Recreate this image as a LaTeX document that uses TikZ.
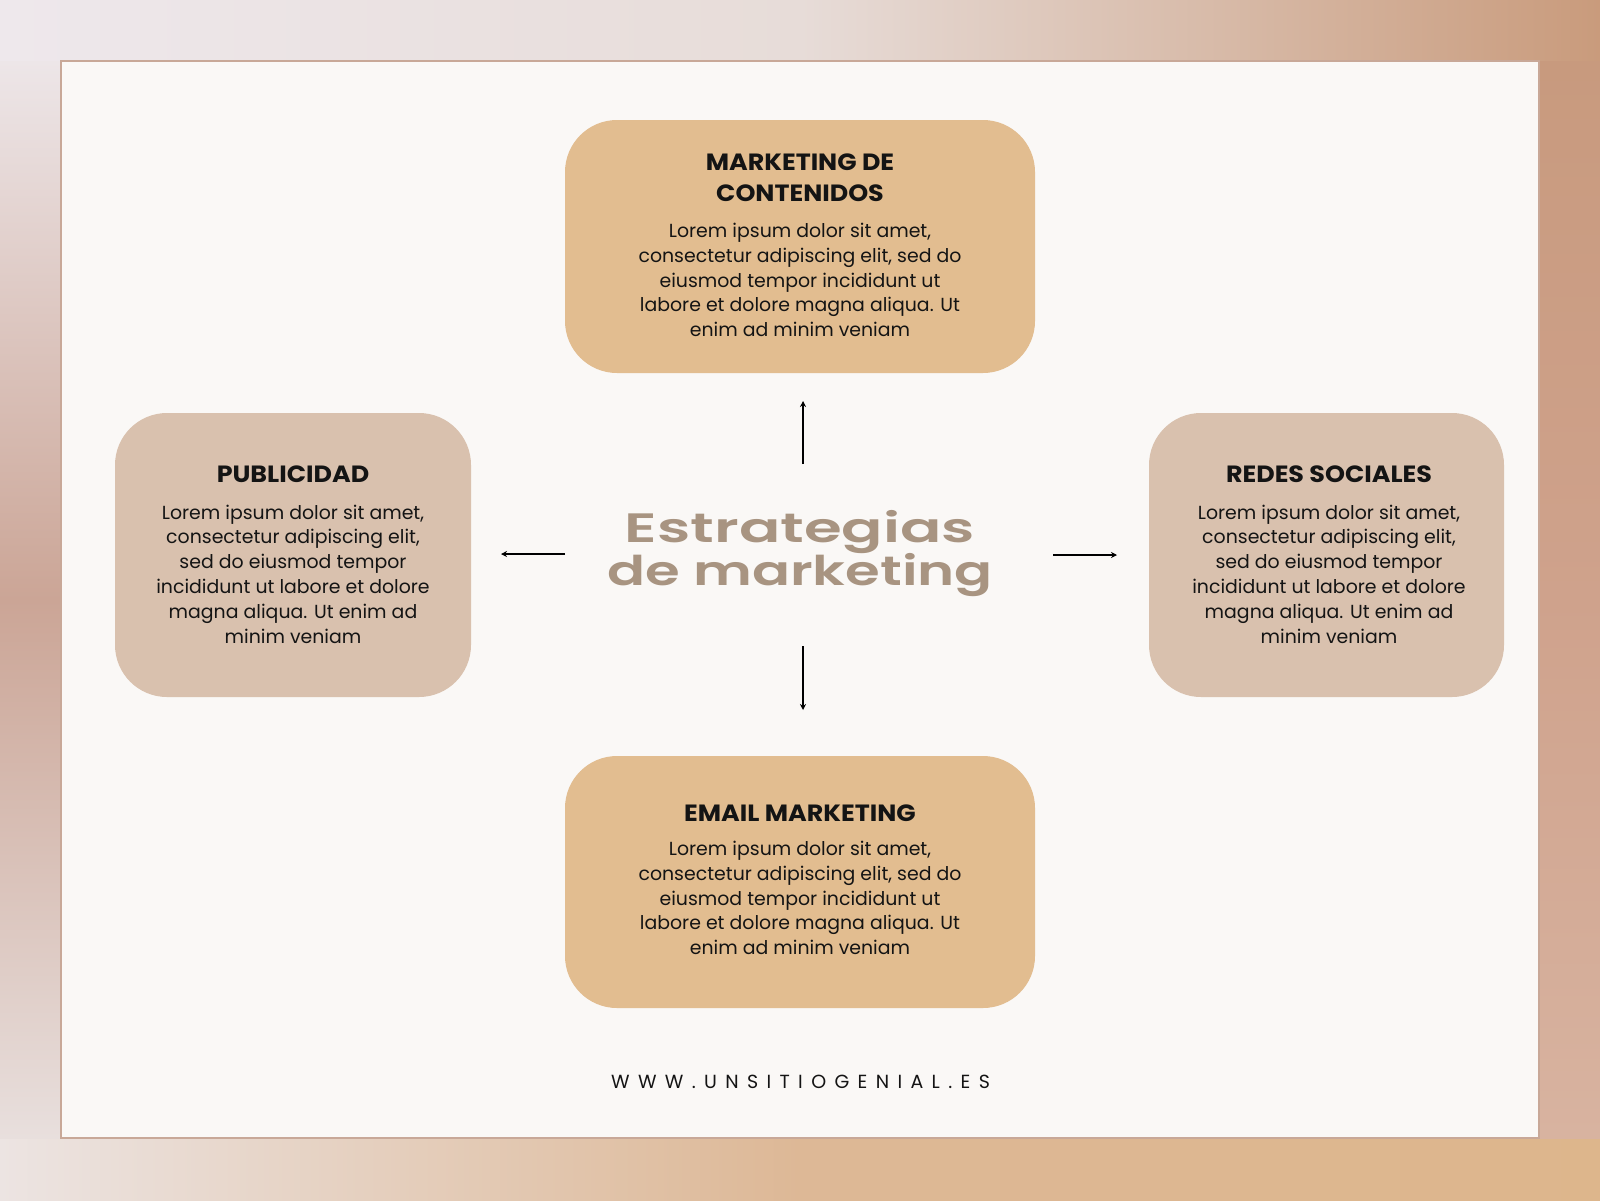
\documentclass[tikz,border=0pt]{standalone}
\usepackage{fontspec}
\setmainfont{Poppins}
\newfontfamily\titlefontA[FakeStretch=1.49]{Poppins SemiBold}
\newfontfamily\titlefontB[FakeStretch=1.37]{Poppins SemiBold}
\newfontfamily\headfont[FakeStretch=1.08]{Poppins}
\newfontfamily\webfont[LetterSpace=44]{Poppins}
\usetikzlibrary{arrows.meta}
\definecolor{tanbox}{HTML}{E2BD90}
\definecolor{rosebox}{HTML}{D9C1AE}
\definecolor{titlecol}{HTML}{A89481}
\definecolor{framecol}{HTML}{C8A898}
\definecolor{panel}{HTML}{FAF8F6}
\definecolor{ink}{HTML}{141414}
\definecolor{bgA}{HTML}{EEE8EC}
\definecolor{bgB}{HTML}{C99B7C}
\definecolor{bgC}{HTML}{E7DCD8}
\definecolor{bgD}{HTML}{ECE4E2}
\definecolor{bgE}{HTML}{DDB68C}
\definecolor{bgF}{HTML}{DDB896}
\definecolor{bgG}{HTML}{EDE6E8}
\definecolor{bgH}{HTML}{E8DFDD}
\definecolor{bgI}{HTML}{CBA596}
\definecolor{bgJ}{HTML}{C89A7E}
\definecolor{bgK}{HTML}{D8B3A0}
\definecolor{bgL}{HTML}{CFA28C}
\tikzset{
  boxshape/.style={rectangle, rounded corners=52pt, inner sep=0pt},
  tanshape/.style={boxshape, fill=tanbox},
  roseshape/.style={boxshape, fill=rosebox},
  headline/.style={anchor=base, inner sep=0pt, text=ink, font=\fontsize{23.5}{26}\headfont\bfseries},
  bodyline/.style={anchor=base, inner sep=0pt, text=ink, font=\fontsize{18.9}{22}\selectfont},
  titleline/.style={anchor=base, inner sep=0pt, text=titlecol},
  arrowline/.style={line width=1.4pt, black, -{Stealth[length=6pt,width=6pt,inset=2pt]}},
}
\begin{document}
\begin{tikzpicture}[x=1pt,y=-1pt]
\useasboundingbox (0,0) rectangle (1600,1200);
% outer textured margin (approximated by gradients)
\fill[left color=bgA, right color=bgB, middle color=bgC] (0,0) rectangle (1600,62);
\fill[left color=bgD, right color=bgE, middle color=bgF] (0,1137) rectangle (1600,1200);
\fill[top color=bgG, bottom color=bgH, middle color=bgI] (0,61) rectangle (61,1138);
\fill[top color=bgJ, bottom color=bgK, middle color=bgL] (1539,61) rectangle (1600,1138);
% panel
\node[draw=framecol, line width=1.5pt, fill=panel, rectangle, inner sep=0pt, minimum width=1478pt, minimum height=1077pt] (panel) at (800,599.5) {};
% boxes
\node[tanshape, minimum width=470pt, minimum height=253pt] (top) at (800,246.5) {};
\node[tanshape, minimum width=470pt, minimum height=252pt] (bottom) at (800,882) {};
\node[roseshape, minimum width=356pt, minimum height=284pt] (left) at (293,555) {};
\node[roseshape, minimum width=355pt, minimum height=284pt] (right) at (1326.5,555) {};
% top box text
\node[headline] (topH1) at (800,170) {MARKETING DE};
\node[headline] (topH2) at (800,201) {CONTENIDOS};
\foreach \t [count=\i from 0] in {{Lorem ipsum dolor sit amet,},{consectetur adipiscing elit, sed do},{eiusmod tempor incididunt ut},{labore et dolore magna aliqua. Ut},{enim ad minim veniam}}
  \node[bodyline] (topL\i) at (800,{237.5+24.8*\i}) {\t};
% bottom box text
\node[headline] (botH) at (800,821) {EMAIL MARKETING};
\foreach \t [count=\i from 0] in {{Lorem ipsum dolor sit amet,},{consectetur adipiscing elit, sed do},{eiusmod tempor incididunt ut},{labore et dolore magna aliqua. Ut},{enim ad minim veniam}}
  \node[bodyline] (botL\i) at (800,{855.5+24.8*\i}) {\t};
% left box text
\node[headline] (leftH) at (293,482) {PUBLICIDAD};
\foreach \t [count=\i from 0] in {{Lorem ipsum dolor sit amet,},{consectetur adipiscing elit,},{sed do eiusmod tempor},{incididunt ut labore et dolore},{magna aliqua. Ut enim ad},{minim veniam}}
  \node[bodyline] (leftL\i) at (293,{519+24.9*\i}) {\t};
% right box text
\node[headline] (rightH) at (1329,482) {REDES SOCIALES};
\foreach \t [count=\i from 0] in {{Lorem ipsum dolor sit amet,},{consectetur adipiscing elit,},{sed do eiusmod tempor},{incididunt ut labore et dolore},{magna aliqua. Ut enim ad},{minim veniam}}
  \node[bodyline] (rightL\i) at (1329,{519+24.9*\i}) {\t};
% title
\node[titleline, font=\fontsize{41}{43}\titlefontA] (title1) at (800,542) {Estrategias};
\node[titleline, font=\fontsize{41}{43}\titlefontB] (title2) at (800,585) {de marketing};
% arrows
\coordinate (upA) at (803,464); \coordinate (upB) at (803,401);
\coordinate (dnA) at (803,646); \coordinate (dnB) at (803,710);
\coordinate (lfA) at (565,554); \coordinate (lfB) at (501,554);
\coordinate (rtA) at (1053,555); \coordinate (rtB) at (1117,555);
\draw[arrowline] (upA) -- (upB);
\draw[arrowline] (dnA) -- (dnB);
\draw[arrowline] (lfA) -- (lfB);
\draw[arrowline] (rtA) -- (rtB);
% website
\node[anchor=base, inner sep=0pt, text=ink, font=\fontsize{19}{22}\webfont] (web) at (800.5,1088) {WWW.UNSITIOGENIAL.ES};
\end{tikzpicture}
\end{document}
